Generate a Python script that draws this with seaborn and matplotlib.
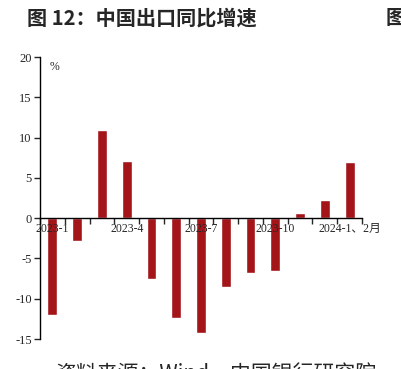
import numpy as np
import pandas as pd
import matplotlib.pyplot as plt
import seaborn as sns

months = ['2023-1', '2023-2', '2023-3', '2023-4', '2023-5', '2023-6', '2023-7',
          '2023-8', '2023-9', '2023-10', '2023-11', '2023-12', '2024-1、2月']
export_yoy = [-12.0, -2.8, 10.9, 7.1, -7.6, -12.4, -14.2, -8.5, -6.8, -6.6, 0.6, 2.3, 7.0]
shown_labels = ['2023-1', '2023-4', '2023-7', '2023-10', '2024-1、2月']
yticks = [-15, -10, -5, 0, 5, 10, 15, 20]

sns.set_style('white')
plt.rcParams['font.family'] = ['Liberation Serif', 'Noto Sans CJK SC']

df = pd.DataFrame({'month': months, 'yoy': export_yoy})

fig = plt.figure(figsize=(4.01, 3.69), dpi=100)
ax = fig.add_axes([40 / 401, 1 - 339 / 369, 322 / 401, 282 / 369])

sns.barplot(data=df, x='month', y='yoy', order=months, color='#a31519',
            saturation=1, width=0.4, ax=ax)
for p in ax.patches:
    p.set_zorder(2)

ax.set_xlim(-0.5, len(months) - 0.5)
ax.set_ylim(-15, 20)
ax.set_yticks(yticks)
ax.set_yticklabels([str(v) for v in yticks], fontsize=9)
ax.set_xticks(np.arange(-0.5, len(months), 1))
ax.set_xticklabels([])
ax.set_xlabel('')
ax.set_ylabel('')

for s in ['top', 'right']:
    ax.spines[s].set_visible(False)
ax.spines['bottom'].set_position(('data', 0))
for s in ['left', 'bottom']:
    ax.spines[s].set_color('black')
    ax.spines[s].set_linewidth(1.0)
    ax.spines[s].set_zorder(4)
ax.tick_params(axis='y', direction='out', length=4, width=1, pad=2, left=True)
ax.tick_params(axis='x', direction='out', length=4, width=1, bottom=True)

# labels sit on top of the bars, as in the original
for lab in shown_labels:
    i = months.index(lab)
    t = ax.text(i, -0.55, lab, ha='center', va='top', fontsize=8.5, clip_on=False)
    t.set_zorder(10)

ax.text(0.03, 0.985, '%', transform=ax.transAxes, fontsize=8.5, va='top')

fig.text(27 / 401, 1 - 18 / 369, '图 12：中国出口同比增速', fontsize=14.5,
         fontweight='bold', va='center', ha='left',
         family=['Noto Sans CJK SC', 'DejaVu Sans'])
fig.text(386 / 401, 1 - 18 / 369, '图', fontsize=14.5,
         fontweight='bold', va='center', ha='left',
         family=['Noto Sans CJK SC', 'DejaVu Sans'])
fig.text(55 / 401, 1 - 375 / 369, '资料来源：Wind，中国银行研究院', fontsize=15,
         va='center', ha='left', family=['Noto Sans CJK SC', 'DejaVu Sans'])

fig.savefig('out.png', dpi=100)
